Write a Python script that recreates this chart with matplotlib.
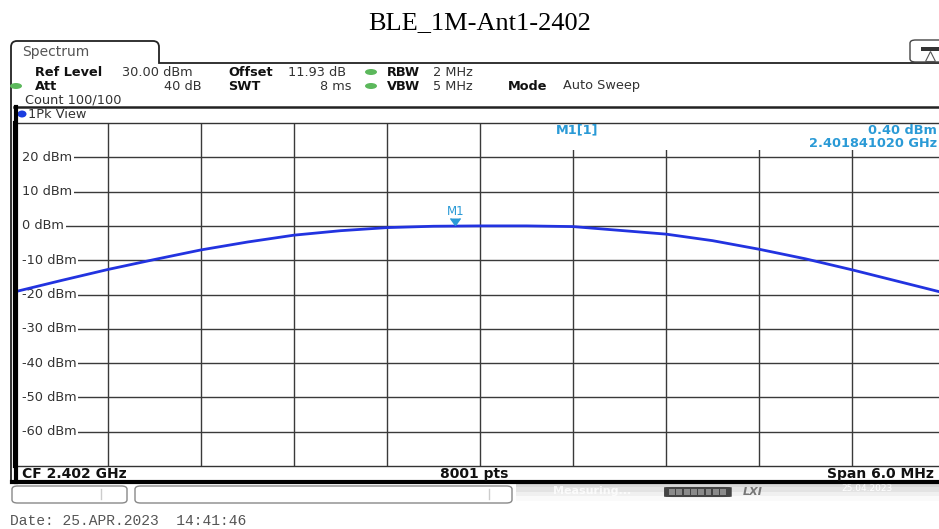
import matplotlib.pyplot as plt
import matplotlib
import matplotlib.transforms as mtransforms
from matplotlib.lines import Line2D
from matplotlib.patches import Ellipse, FancyBboxPatch, Rectangle, PathPatch
from matplotlib.path import Path

matplotlib.rcParams['font.family'] = 'DejaVu Sans'

W, H = 939, 529

# ---------------------------------------------------------------------------
# Data
# ---------------------------------------------------------------------------
title = 'BLE_1M-Ant1-2402'
center_ghz = 2.402
span_ghz = 0.006
ref_level = 30
db_per_div = 10

freq_ghz = [2.3990, 2.3993, 2.3996, 2.3999, 2.4002, 2.4005, 2.4008, 2.4011,
            2.4014, 2.4017, 2.4020, 2.4023, 2.4026, 2.4029, 2.4032, 2.4035,
            2.4038, 2.4041, 2.4044, 2.4047, 2.4050]
level_dbm = [-19.2, -15.9, -12.7, -9.8, -7.0, -4.7, -2.7, -1.4,
             -0.5, -0.1, 0.0, 0.0, -0.2, -1.3, -2.4, -4.3,
             -6.8, -9.6, -12.8, -16.2, -19.6]
y_tick_vals = [20, 10, 0, -10, -20, -30, -40, -50, -60]

marker_freq = 2.401841020
marker_level = 0.40

info_row1 = [('Ref Level', 35, 'b'), ('30.00 dBm', 122, 'n'), ('Offset', 228, 'b'),
             ('11.93 dB', 288, 'n'), ('RBW', 387, 'b'), ('2 MHz', 433, 'n')]
info_row2 = [('Att', 35, 'b'), ('SWT', 228, 'b'), ('VBW', 387, 'b'),
             ('5 MHz', 433, 'n'), ('Mode', 508, 'b'), ('Auto Sweep', 563, 'n')]

FS = 9.3

# ---------------------------------------------------------------------------
# Helpers (pixel coords -> figure fraction)
# ---------------------------------------------------------------------------
fig = plt.figure(figsize=(W / 100, H / 100), dpi=100)
fig.patch.set_facecolor('white')


def px(x, y):
    return x / W, 1 - y / H


def ftext(x, y, s, **kw):
    fx, fy = px(x, y)
    kw.setdefault('va', 'center')
    fig.text(fx, fy, s, **kw)


def fline(xs, ys, **kw):
    fig.add_artist(Line2D([x / W for x in xs], [1 - y / H for y in ys],
                          transform=fig.transFigure, **kw))


def fdot(x, y, w, h, color):
    fig.add_artist(Ellipse(px(x, y), w / W, h / H, transform=fig.transFigure,
                           facecolor=color, edgecolor='none'))


def fbox(x0, y0, x1, y1, **kw):
    fig.add_artist(FancyBboxPatch((x0 / W, 1 - y1 / H), (x1 - x0) / W, (y1 - y0) / H,
                                  boxstyle='round,pad=0,rounding_size=0.006',
                                  transform=fig.transFigure, **kw))


# ---------------------------------------------------------------------------
# Title + window chrome
# ---------------------------------------------------------------------------
ftext(480, 23, title, ha='center', fontsize=19, family='Liberation Serif')

verts = [(11, 484), (11, 47), (11, 41), (17, 41), (153, 41), (159, 41),
         (159, 47), (159, 63), (939, 63)]
codes = [Path.MOVETO, Path.LINETO, Path.CURVE3, Path.CURVE3, Path.LINETO,
         Path.CURVE3, Path.CURVE3, Path.LINETO, Path.LINETO]
fig.add_artist(PathPatch(Path([px(*v) for v in verts], codes), fill=False,
                         edgecolor='#222222', lw=1.3, transform=fig.transFigure))
ftext(22, 52, 'Spectrum', fontsize=10, color='#555555')

# icon top right
fbox(910, 40, 948, 62, facecolor='white', edgecolor='#444444', lw=1)
fig.add_artist(Rectangle(px(921, 51), 18 / W, 4 / H, transform=fig.transFigure,
                         facecolor='#333333', edgecolor='none'))
fig.add_artist(Line2D([px(930, 56)[0]], [px(930, 56)[1]], marker='^', ms=7,
                      mfc='white', mec='#555555', mew=0.8, transform=fig.transFigure))

# info rows
for s, x, w in info_row1:
    ftext(x, 72, s, fontsize=FS, fontweight='bold' if w == 'b' else 'normal',
          color='#111111' if w == 'b' else '#333333')
for s, x, w in info_row2:
    ftext(x, 86, s, fontsize=FS, fontweight='bold' if w == 'b' else 'normal',
          color='#111111' if w == 'b' else '#333333')
ftext(202, 86, '40 dB', fontsize=FS, color='#333333', ha='right')
ftext(352, 86, '8 ms', fontsize=FS, color='#333333', ha='right')
ftext(25, 100, 'Count 100/100', fontsize=FS, color='#333333')
for x, y in [(371, 72), (371, 86), (16, 86)]:
    fdot(x, y, 12, 6, '#5cb85c')

fline([14, 939], [107, 107], color='#222222', lw=1.8)
fdot(22, 114, 9, 7, '#1a3de0')
ftext(28, 114, '1Pk View', fontsize=FS, color='#333333')

# ---------------------------------------------------------------------------
# Spectrum trace axes (right edge runs past the screenshot crop)
# ---------------------------------------------------------------------------
ax = fig.add_axes([15 / W, 1 - 466 / H, 930 / W, 343 / H])
f0, f1 = center_ghz - span_ghz / 2, center_ghz + span_ghz / 2
ax.set_xlim(f0, f1)
ax.set_ylim(ref_level - 10 * db_per_div, ref_level)
ax.set_xticks([f0 + span_ghz / 10 * i for i in range(1, 10)])
ax.set_yticks(y_tick_vals)
ax.tick_params(length=0, labelleft=False, labelbottom=False)
ax.grid(True, color='#3a3a3a', lw=1)
ax.set_axisbelow(True)
for side in ['top', 'bottom']:
    ax.spines[side].set_color('#333333')
    ax.spines[side].set_linewidth(1)
ax.spines['right'].set_visible(False)
ax.spines['left'].set_linewidth(3)

# white strip so gridlines start right after the level labels
ax.add_patch(Rectangle((0, 0), 7 / 930, 0.99, transform=ax.transAxes,
                       facecolor='white', edgecolor='none', zorder=1.5))

trans = mtransforms.blended_transform_factory(ax.transAxes, ax.transData)
for v in y_tick_vals:
    ax.text(7 / 930, v, f'{v} dBm', transform=trans, va='center', ha='left',
            fontsize=FS, color='#333333', zorder=2,
            bbox=dict(facecolor='white', edgecolor='none', pad=1.2))

# white readout area over grid
ax.add_patch(Rectangle(((530 - 15) / 930, 1 - 27 / 343), 1, 26 / 343,
                       transform=ax.transAxes, facecolor='white',
                       edgecolor='none', zorder=1))

ax.plot(freq_ghz, level_dbm, color='#2233e0', lw=2, zorder=5,
        solid_joinstyle='round')

mk_col = '#2a9ad6'
ax.plot(marker_freq, marker_level, marker=7, ms=7, color=mk_col, zorder=6)
ax.annotate('M1', (marker_freq, marker_level), xytext=(0, 13),
            textcoords='offset pixels', ha='center', va='center',
            fontsize=8.5, color=mk_col, zorder=6)

ftext(577, 130, 'M1[1]', ha='center', fontsize=FS, fontweight='bold', color=mk_col)
ftext(937, 130, f'{marker_level:.2f} dBm', ha='right', fontsize=FS,
      fontweight='bold', color=mk_col)
ftext(937, 144, f'{marker_freq:.9f} GHz', ha='right', fontsize=FS,
      fontweight='bold', color=mk_col)

# ---------------------------------------------------------------------------
# Bottom bar + status line
# ---------------------------------------------------------------------------
fline([15.5, 15.5], [107, 482], color='black', lw=3)
ftext(22, 474, f'CF {center_ghz:.3f} GHz', fontsize=10, fontweight='bold', color='#111111')
ftext(474, 474, '8001 pts', ha='center', fontsize=10, fontweight='bold', color='#111111')
ftext(934, 474, f'Span {span_ghz * 1000:.1f} MHz', ha='right', fontsize=10,
      fontweight='bold', color='#111111')
fline([12, 939], [482, 482], color='black', lw=3)

fbox(12, 486, 127, 503, facecolor='white', edgecolor='#888888', lw=1)
fbox(135, 486, 512, 503, facecolor='white', edgecolor='#888888', lw=1)
fline([101, 101], [489, 499], color='#cccccc', lw=1)
fline([489, 489], [489, 499], color='#cccccc', lw=1)

sb = fig.add_axes([516 / W, 1 - 501 / H, 423 / W, 18 / H])
sb.imshow([[0.84], [0.89], [0.94], [0.98]], cmap='gray', vmin=0, vmax=1,
          aspect='auto', extent=(0, 1, 0, 1))
sb.axis('off')
sb.text(0.18, 0.55, 'Measuring...', color='white', fontsize=8, fontweight='bold',
        ha='center', va='center', alpha=0.8)
sb.add_patch(FancyBboxPatch((0.35, 0.22), 0.16, 0.56,
                            boxstyle='round,pad=0,rounding_size=0.02',
                            facecolor='#444444', edgecolor='none'))
for i in range(8):
    sb.add_patch(Rectangle((0.362 + i * 0.0172, 0.32), 0.014, 0.36,
                           facecolor='#8a8a8a', edgecolor='none'))
sb.text(0.535, 0.52, 'LXI', color='#777777', fontsize=8, fontweight='bold',
        fontstyle='italic', ha='left', va='center')
sb.text(0.83, 0.7, '25.04.2023', color='white', fontsize=6.5, ha='center', va='center')
sb.set_xlim(0, 1)
sb.set_ylim(0, 1)

ftext(10, 521, 'Date: 25.APR.2023  14:41:46', fontsize=10.5,
      family='Liberation Mono', color='#555555')

fig.savefig('out.png', dpi=100, facecolor='white')
